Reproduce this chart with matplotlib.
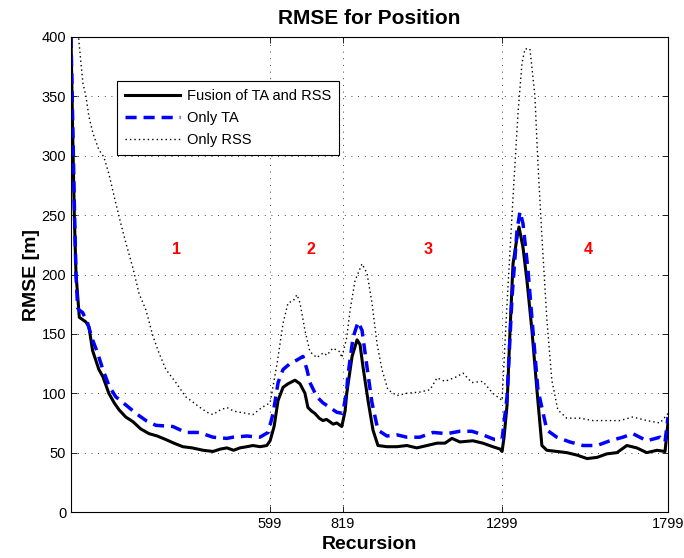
import matplotlib.pyplot as plt

# Fusion of TA and RSS
fus_x = [0, 5, 10, 15, 25, 35, 45, 54, 65, 84, 96, 114, 130, 145, 165, 187, 210, 235,
         260, 286, 310, 337, 365, 398, 428, 450, 470, 490, 509, 530, 548, 570, 590, 600,
         612, 624, 639, 654, 675, 690, 705, 714, 725, 735, 748, 759, 770, 780, 790, 801,
         816, 826, 831, 847, 862, 871, 880, 895, 910, 925, 952, 982, 1012, 1042, 1073,
         1103, 1127, 1148, 1172, 1211, 1241, 1271, 1293, 1299, 1305, 1314, 1323, 1332,
         1344, 1350, 1362, 1374, 1389, 1404, 1419, 1434, 1464, 1494, 1524, 1555, 1585,
         1615, 1645, 1675, 1705, 1735, 1766, 1790, 1799]
fus_y = [400, 320, 250, 201, 164, 162, 160, 156, 136, 120, 114, 100, 92, 86, 80, 76, 70, 66,
         64, 61, 58, 55, 54, 52, 51, 53, 54, 52, 54, 55, 56, 55, 56, 60,
         72, 94, 105, 108, 111, 108, 100, 88, 85, 83, 79, 77, 78, 76, 74, 75,
         72, 85, 100, 131, 145, 141, 122, 94, 69, 56, 55, 55, 56, 54, 56,
         58, 58, 62, 59, 60, 58, 55, 53, 51, 63, 90, 153, 209,
         231, 240, 223, 195, 153, 103, 56, 52, 51, 50, 48, 45, 46,
         49, 50, 56, 54, 50, 52, 51, 75]

# Only TA
ta_x = [0, 5, 10, 15, 20, 25, 35, 50, 65, 80, 96, 115, 135, 166, 196, 226, 256, 307, 346,
        386, 428, 470, 488, 530, 569, 594, 609, 624, 639, 660, 681, 699, 711, 720, 741,
        759, 780, 801, 819, 831, 834, 850, 865, 877, 892, 907, 925, 952, 982, 1012, 1051,
        1091, 1133, 1172, 1208, 1241, 1277, 1299, 1314, 1329, 1344, 1353, 1362, 1377,
        1392, 1407, 1434, 1464, 1503, 1543, 1585, 1624, 1663, 1693, 1735, 1775, 1790, 1799]
ta_y = [400, 330, 260, 200, 172, 170, 168, 159, 145, 134, 120, 106, 97, 90, 83, 77, 73, 72, 67,
        67, 63, 62, 63, 64, 63, 67, 83, 109, 120, 125, 128, 131, 120, 109, 97,
        92, 88, 84, 83, 103, 114, 147, 160, 153, 122, 92, 69, 64, 65, 63, 63,
        67, 66, 68, 68, 65, 61, 61, 97, 181, 237, 253, 243, 204,
        153, 103, 69, 63, 59, 56, 56, 60, 63, 66, 60, 63, 59, 80]

# Only RSS
rss_x = [20, 25, 30, 36, 45, 54, 66, 84, 99, 114, 135, 150, 166, 187, 205, 226, 247, 265,
         286, 316, 346, 370, 389, 410, 428, 450, 470, 490, 509, 530, 548, 575, 600, 621,
         639, 654, 670, 681, 690, 705, 720, 741, 760, 771, 789, 810, 816, 831, 841, 856,
         877, 892, 907, 922, 937, 955, 982, 1012, 1051, 1082, 1103, 1127, 1163, 1181, 1208,
         1241, 1271, 1299, 1314, 1332, 1347, 1359, 1368, 1383, 1398, 1407, 1419, 1434,
         1449, 1467, 1494, 1534, 1573, 1615, 1654, 1693, 1735, 1775, 1799]
rss_y = [410, 393, 378, 361, 350, 333, 319, 305, 299, 285, 260, 243, 226, 205, 184, 170, 148, 134,
         120, 109, 97, 92, 88, 84, 82, 86, 88, 85, 84, 83, 82, 88, 92, 125,
         159, 176, 178, 183, 176, 153, 135, 130, 134, 132, 138, 135, 130, 147, 170, 195,
         209, 201, 176, 142, 120, 103, 98, 100, 101, 103, 113, 110, 114, 117, 109,
         110, 100, 94, 176, 265, 336, 378, 390, 390, 350, 294, 232, 162,
         111, 86, 79, 79, 77, 77, 77, 80, 77, 75, 83]

region_labels = ["1", "2", "3", "4"]
region_x = [317, 723, 1075, 1558]
region_y = [221, 221, 221, 221]

xticks = [599, 819, 1299, 1799]
yticks = [0, 50, 100, 150, 200, 250, 300, 350, 400]

plt.rcParams['font.family'] = ['Liberation Sans', 'DejaVu Sans']

fig = plt.figure(figsize=(6.84, 5.58), dpi=100)
ax = fig.add_axes([0.1038, 0.0824, 0.8728, 0.8513])

ax.plot(fus_x, fus_y, color="black", lw=2.2, label="Fusion of TA and RSS")
ax.plot(ta_x, ta_y, color="blue", lw=2.5, linestyle=(0, (3.2, 2)), label="Only TA")
ax.plot(rss_x, rss_y, color="black", lw=1.0, linestyle=(0, (1, 2.2)), label="Only RSS")

for lab, x, y in zip(region_labels, region_x, region_y):
    ax.text(x, y, lab, color="red", fontsize=11.5, fontweight="bold", ha="center", va="center")

ax.set_xlim(0, 1799)
ax.set_ylim(0, 400)
ax.set_xticks(xticks)
ax.set_yticks(yticks)
ax.tick_params(direction="in", top=True, right=True, labelsize=10.5, length=4, width=0.6)
ax.grid(True, color="black", lw=0.6, linestyle=(0, (1, 7)))
for s in ax.spines.values():
    s.set_linewidth(0.8)

ax.set_title("RMSE for Position", fontsize=15, fontweight="bold", pad=9)
ax.set_xlabel("Recursion", fontsize=14, fontweight="bold", labelpad=4)
ax.set_ylabel("RMSE [m]", fontsize=14, fontweight="bold", labelpad=1)

leg = ax.legend(loc="upper left", bbox_to_anchor=(0.077, 0.907), borderaxespad=0,
                fancybox=False, edgecolor="black", framealpha=1, fontsize=10.5,
                handlelength=3.8, labelspacing=0.55, borderpad=0.55, handletextpad=0.45)
leg.get_frame().set_linewidth(0.8)

fig.savefig("out.png", dpi=100)
